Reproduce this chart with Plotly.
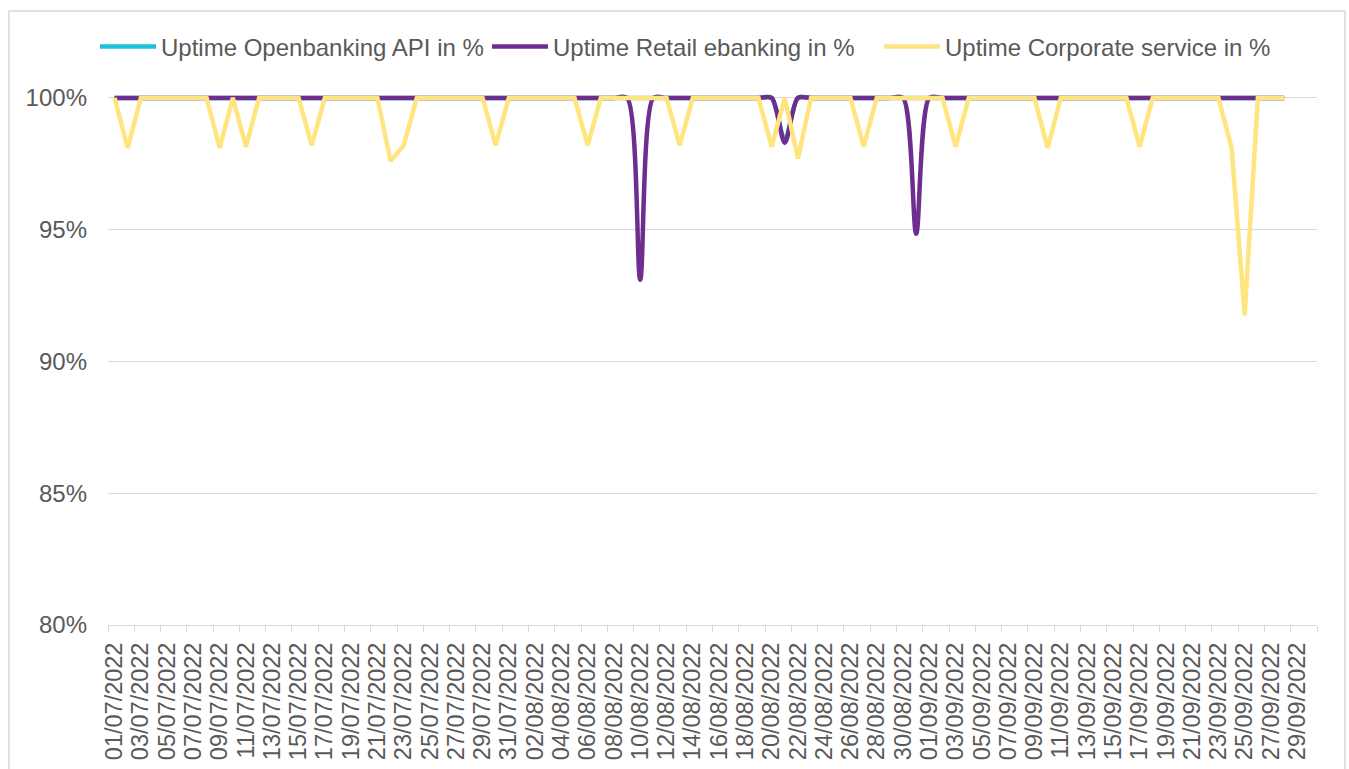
import plotly.graph_objects as go
import pandas as pd

# Categories: daily dates 01/07/2022 .. 30/09/2022
dates = pd.date_range("2022-07-01", "2022-09-30").strftime("%d/%m/%Y").tolist()

series_names = [
    "Uptime Openbanking API in %",
    "Uptime Retail ebanking in %",
    "Uptime Corporate service in %",
]

openbanking = [
    100, 100, 100, 100, 100, 100, 100, 100, 100, 100,
    100, 100, 100, 100, 100, 100, 100, 100, 100, 100,
    100, 100, 100, 100, 100, 100, 100, 100, 100, 100,
    100, 100, 100, 100, 100, 100, 100, 100, 100, 100,
    100, 100, 100, 100, 100, 100, 100, 100, 100, 100,
    100, 98.4, 100, 100, 100, 100, 100, 100, 100, 100,
    100, 100, 100, 100, 100, 100, 100, 100, 100, 100,
    100, 100, 100, 100, 100, 100, 100, 100, 100, 100,
    100, 100, 100, 100, 100, 100, 100, 100, 100, 100,
    None, None,
]

retail = [
    100, 100, 100, 100, 100, 100, 100, 100, 100, 100,
    100, 100, 100, 100, 100, 100, 100, 100, 100, 100,
    100, 100, 100, 100, 100, 100, 100, 100, 100, 100,
    100, 100, 100, 100, 100, 100, 100, 100, 100, 100,
    93.1, 100, 100, 100, 100, 100, 100, 100, 100, 100,
    100, 98.3, 100, 100, 100, 100, 100, 100, 100, 100,
    100, 94.85, 100, 100, 100, 100, 100, 100, 100, 100,
    100, 100, 100, 100, 100, 100, 100, 100, 100, 100,
    100, 100, 100, 100, 100, 100, 100, 100, 100, 100,
    None, None,
]

corporate = [
    100, 98.1, 100, 100, 100, 100, 100, 100, 98.1, 100,
    98.15, 100, 100, 100, 100, 98.2, 100, 100, 100, 100,
    100, 97.6, 98.2, 100, 100, 100, 100, 100, 100, 98.2,
    100, 100, 100, 100, 100, 100, 98.2, 100, 100, 100,
    100, 100, 100, 98.2, 100, 100, 100, 100, 100, 100,
    98.15, 100, 97.7, 100, 100, 100, 100, 98.15, 100, 100,
    100, 100, 100, 100, 98.15, 100, 100, 100, 100, 100,
    100, 98.1, 100, 100, 100, 100, 100, 100, 98.15, 100,
    100, 100, 100, 100, 100, 98.1, 91.75, 100, 100, 100,
    None, None,
]

y_ticks = [80, 85, 90, 95, 100]
y_ticktext = ["80%", "85%", "90%", "95%", "100%"]

x_idx = list(range(len(dates)))
FONT = "Liberation Sans, Arial, sans-serif"
TXT = "#595959"
GRID = "#d9d9d9"
FS = 24

fig = go.Figure()
fig.add_trace(go.Scatter(
    x=x_idx, y=openbanking, mode="lines", name=series_names[0],
    line=dict(color="#1DBFDB", width=4.5, shape="spline", smoothing=0.8),
))
fig.add_trace(go.Scatter(
    x=x_idx, y=retail, mode="lines", name=series_names[1],
    line=dict(color="#6E2E8E", width=4.5, shape="spline", smoothing=0.8),
))
fig.add_trace(go.Scatter(
    x=x_idx, y=corporate, mode="lines", name=series_names[2],
    line=dict(color="#FFE57F", width=4.5),
))

fig.update_layout(
    width=1349, height=769,
    margin=dict(l=108, r=32, t=90, b=144, autoexpand=False),
    paper_bgcolor="white", plot_bgcolor="white",
    font=dict(family=FONT, size=FS, color=TXT),
    showlegend=True,
    legend=dict(
        orientation="h", xref="container", yref="container",
        x=95 / 1349, xanchor="left", y=1 - 47 / 769, yanchor="middle",
        font=dict(family=FONT, size=FS, color=TXT),
        itemwidth=56, entrywidth=321, entrywidthmode="pixels",
        bgcolor="rgba(0,0,0,0)",
    ),
    xaxis=dict(
        range=[-0.5, len(dates) - 0.5], automargin=False,
        showgrid=False, zeroline=False,
        showline=True, linecolor=GRID, linewidth=1.3,
        tickmode="array", tickvals=x_idx[::2], ticktext=dates[::2],
        tickangle=-90, ticks="", ticklabelstandoff=7,
        tickfont=dict(family=FONT, size=23.5, color=TXT),
        minor=dict(
            tickmode="array",
            tickvals=[i - 0.5 for i in range(0, len(dates) + 1, 2)],
            ticks="outside", ticklen=6, tickcolor=GRID, tickwidth=1.3,
            showgrid=False,
        ),
    ),
    yaxis=dict(
        range=[80, 100.3], automargin=False,
        tickmode="array", tickvals=y_ticks, ticktext=y_ticktext,
        showgrid=True, gridcolor=GRID, gridwidth=1.3,
        showline=False, zeroline=False, ticks="", ticklabelstandoff=20,
        tickfont=dict(family=FONT, size=FS, color=TXT),
    ),
    shapes=[dict(
        type="rect", xref="paper", yref="paper",
        x0=(9 - 108) / 1209, x1=(1345 - 108) / 1209,
        y0=(625 - 790) / 535, y1=(625 - 11) / 535,
        line=dict(color=GRID, width=1.5), fillcolor="rgba(0,0,0,0)",
        layer="below",
    )],
)

fig.write_html(
    "out.html",
    config={"displayModeBar": False},
    post_script="document.body.style.margin='0px';",
)
